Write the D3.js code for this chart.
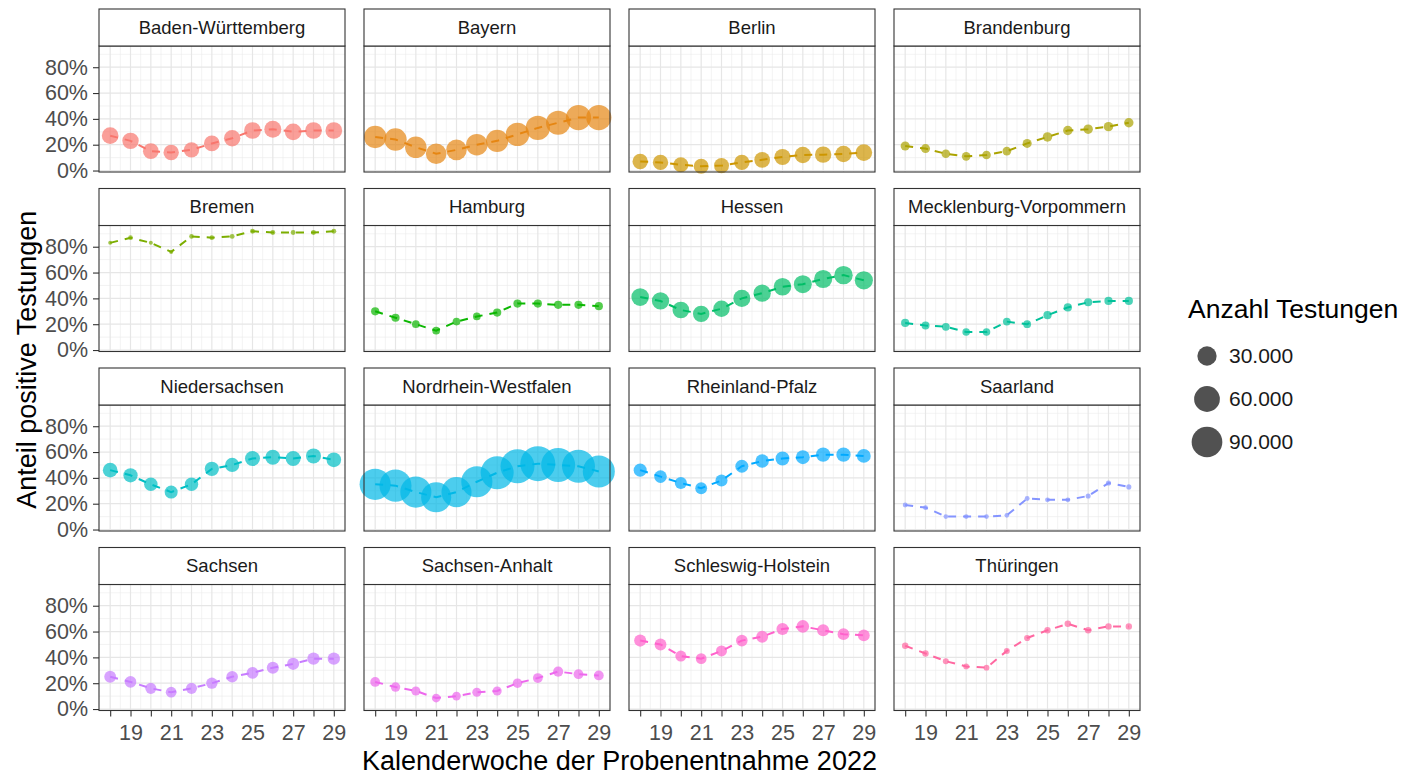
<!DOCTYPE html>
<html>
<head>
<meta charset="UTF-8">
<title>Anteil positive Testungen</title>
<style>
  body { margin: 0; background: #fff; }
  svg text { font-family: "Liberation Sans", Arial, sans-serif; }
</style>
</head>
<body>
<script src="https://cdn.jsdelivr.net/npm/d3@7"></script>
<script>
// Kalenderwochen 2022
const weeks = [18, 19, 20, 21, 22, 23, 24, 25, 26, 27, 28, 29]
const xTickLabels = ["", "19", "", "21", "", "23", "", "25", "", "27", "", "29"]
const yTicks = [0, 20, 40, 60, 80]

const states = [
  "Baden-Württemberg", "Bayern", "Berlin", "Brandenburg",
  "Bremen", "Hamburg", "Hessen", "Mecklenburg-Vorpommern",
  "Niedersachsen", "Nordrhein-Westfalen", "Rheinland-Pfalz", "Saarland",
  "Sachsen", "Sachsen-Anhalt", "Schleswig-Holstein", "Thüringen"
]

// ggplot Standardfarben (hue_pal, 16 Stufen)
const stateColors = [
  "#F8766D", "#E68613", "#CD9600", "#ABA300",
  "#7CAE00", "#0CB702", "#00BE67", "#00C19A",
  "#00BFC4", "#00B8E7", "#00A9FF", "#8494FF",
  "#C77CFF", "#ED68ED", "#FF61CC", "#FF68A1"
]

// Anteil positive Testungen in % (eine Zeile pro Bundesland, gleiche Reihenfolge wie states)
const anteil = [
  [27, 23, 15, 14, 16, 21, 25, 31, 32, 30, 31, 31],
  [26, 24, 18, 13, 16, 20, 23, 28, 33, 37, 41, 41],
  [7, 6.3, 4.5, 3.3, 3.8, 6.3, 8.3, 10.5, 12, 12.3, 12.8, 13.9],
  [19, 17, 13, 11, 12, 15, 21, 26, 31, 32, 34, 37],
  [83, 87, 83, 76, 88, 87, 88, 92, 91, 91, 91, 92],
  [30, 25, 20, 15, 22, 26, 29, 36, 36, 35, 35, 34],
  [41, 38, 31, 28, 32, 40, 44, 49, 51, 55, 58, 54],
  [21, 19, 18, 14, 14, 22, 20, 27, 33, 37, 38, 38],
  [46, 42, 35, 29, 35, 47, 50, 55, 56, 55, 57, 54],
  [35, 34, 29, 25, 29, 37, 44, 49, 51, 50, 49, 45],
  [46, 41, 36, 32, 38, 49, 53, 55, 56, 58, 58, 57],
  [19, 17, 10, 10, 10, 11, 24, 23, 23, 26, 36, 33],
  [25, 21, 16, 13, 16, 20, 25, 28, 32, 35, 39, 39],
  [21, 17, 14, 8.5, 10, 13, 14, 20, 24, 29, 27, 26],
  [53, 50, 41, 39, 45, 53, 56, 62, 64, 61, 58, 57],
  [49, 43, 37, 33, 32, 45, 55, 61, 66, 61, 64, 64]
]

// Anzahl Testungen pro Woche
const testungen = [
  [21000, 20000, 18000, 17000, 17000, 18000, 20000, 21000, 22000, 21000, 21000, 21000],
  [43000, 43000, 39000, 35000, 35000, 39000, 43000, 48000, 52000, 52000, 57000, 57000],
  [17000, 17000, 16000, 16000, 16000, 17000, 18000, 19000, 20000, 20000, 20000, 21000],
  [4000, 4000, 3500, 3500, 3500, 3500, 4000, 4500, 4500, 4500, 4500, 4500],
  [800, 850, 800, 800, 850, 850, 900, 900, 900, 900, 900, 900],
  [3000, 3000, 2500, 2500, 2500, 2500, 3000, 3000, 3000, 3000, 3000, 3000],
  [24000, 23000, 21000, 20000, 20000, 22000, 23000, 24000, 25000, 26000, 27000, 26000],
  [3000, 2800, 2600, 2400, 2400, 2600, 2600, 3000, 3000, 3000, 3000, 3000],
  [15000, 14000, 12000, 11000, 12000, 14000, 14000, 16000, 16000, 16000, 16000, 15000],
  [93000, 99000, 93000, 86000, 86000, 93000, 106000, 113000, 121000, 113000, 106000, 99000],
  [11000, 10000, 9000, 8500, 9000, 11000, 12000, 13000, 13000, 14000, 14000, 13000],
  [900, 900, 850, 850, 850, 850, 900, 900, 900, 950, 950, 950],
  [8500, 8000, 7000, 6500, 7000, 7500, 8000, 8500, 9000, 9000, 9500, 9500],
  [5000, 4500, 4000, 3500, 3500, 4000, 4000, 4500, 5000, 5500, 5000, 5000],
  [9000, 8500, 7000, 6500, 7000, 8000, 8500, 9000, 10000, 9000, 8500, 8500],
  [1500, 1500, 1300, 1200, 1200, 1300, 1400, 1500, 1600, 1500, 1500, 1500]
]

const legendValues = [30000, 60000, 90000]
const legendLabels = ["30.000", "60.000", "90.000"]

// Layout
var width = 1418
var height = 776
var panelLeft = 99      // linker Rand erste Spalte
var colStep = 265       // Abstand der Spalten
var panelW = 246
var rowTop = 9          // Oberkante erster Streifen
var rowStep = 179.5
var stripH = 37
var panelH = 126

var svg = d3.select("body").append("svg")
  .attr("width", width)
  .attr("height", height)

svg.append("rect").attr("width", width).attr("height", height).attr("fill", "white")

// Skalen (ggplot: 5% Erweiterung)
var xExp = (d3.max(weeks) - d3.min(weeks)) * 0.05
var x = d3.scaleLinear()
  .domain([d3.min(weeks) - xExp, d3.max(weeks) + xExp])
  .range([0, panelW])

var allVals = anteil.flat()
var yExt = d3.extent(allVals)
var yExp = (yExt[1] - yExt[0]) * 0.05
var y = d3.scaleLinear()
  .domain([yExt[0] - yExp, yExt[1] + yExp])
  .range([panelH, 0])

var allN = testungen.flat()
var nMin = d3.min(allN), nMax = d3.max(allN)
var sizeScale = d3.scaleSqrt().domain([0, nMax - nMin]).range([0, 15.5])
function radius(n) { return 2 + sizeScale(Math.max(0, n - nMin)) }

var color = d3.scaleOrdinal().domain(states).range(stateColors)

var line = d3.line()
  .x(d => x(d.week))
  .y(d => y(d.value))

var yMinor = [10, 30, 50, 70, 90].filter(v => v > y.domain()[0] && v < y.domain()[1])
var xMinor = weeks.slice(0, -1).map(w => w + 0.5)

states.forEach(function (state, i) {
  var col = i % 4
  var row = Math.floor(i / 4)
  var px = panelLeft + col * colStep
  var py = rowTop + row * rowStep + stripH

  var g = svg.append("g").attr("transform", "translate(" + px + "," + py + ")")

  // Gitter
  g.selectAll(".ymin").data(yMinor).enter().append("line")
    .attr("x1", 0).attr("x2", panelW)
    .attr("y1", d => y(d)).attr("y2", d => y(d))
    .attr("stroke", "#ebebeb").attr("stroke-width", 0.6)
  g.selectAll(".xmin").data(xMinor).enter().append("line")
    .attr("y1", 0).attr("y2", panelH)
    .attr("x1", d => x(d)).attr("x2", d => x(d))
    .attr("stroke", "#ebebeb").attr("stroke-width", 0.6)
  g.selectAll(".ymaj").data(yTicks).enter().append("line")
    .attr("x1", 0).attr("x2", panelW)
    .attr("y1", d => y(d)).attr("y2", d => y(d))
    .attr("stroke", "#e6e6e6").attr("stroke-width", 1.2)
  g.selectAll(".xmaj").data(weeks).enter().append("line")
    .attr("y1", 0).attr("y2", panelH)
    .attr("x1", d => x(d)).attr("x2", d => x(d))
    .attr("stroke", "#e6e6e6").attr("stroke-width", 1.2)

  var pts = weeks.map((w, j) => ({ week: w, value: anteil[i][j], n: testungen[i][j] }))

  g.append("path")
    .datum(pts)
    .attr("d", line)
    .attr("fill", "none")
    .attr("stroke", color(state))
    .attr("stroke-width", 2)
    .attr("stroke-dasharray", "8 7")

  g.selectAll("circle").data(pts).enter().append("circle")
    .attr("cx", d => x(d.week))
    .attr("cy", d => y(d.value))
    .attr("r", d => radius(d.n))
    .attr("fill", color(state))
    .attr("fill-opacity", 0.7)

  // Rahmen
  g.append("rect")
    .attr("width", panelW).attr("height", panelH)
    .attr("fill", "none").attr("stroke", "#333").attr("stroke-width", 1.1)

  // Streifen
  g.append("rect")
    .attr("y", -stripH).attr("width", panelW).attr("height", stripH)
    .attr("fill", "white").attr("stroke", "#333").attr("stroke-width", 1.1)
  g.append("text")
    .attr("x", panelW / 2).attr("y", -stripH / 2)
    .attr("dy", "0.35em")
    .attr("text-anchor", "middle")
    .attr("font-size", "18.5px")
    .attr("fill", "#1a1a1a")
    .text(state)

  // Achsen
  if (col === 0) {
    var ya = g.append("g").call(d3.axisLeft(y).tickValues(yTicks).tickFormat(d => d + "%").tickSize(6).tickPadding(5))
    ya.select(".domain").remove()
    ya.selectAll("line").attr("stroke", "#333").attr("stroke-width", 1.1)
    ya.selectAll("text").attr("font-size", "21.5px").attr("fill", "#4d4d4d")
      .style("font-family", "Liberation Sans, Arial, sans-serif")
  }
  if (row === 3) {
    var xa = g.append("g").attr("transform", "translate(0," + panelH + ")")
      .call(d3.axisBottom(x).tickValues(weeks).tickFormat((d, j) => xTickLabels[j]).tickSize(6).tickPadding(8))
    xa.select(".domain").remove()
    xa.selectAll("line").attr("stroke", "#333").attr("stroke-width", 1.1)
    xa.selectAll("text").attr("font-size", "21.5px").attr("fill", "#4d4d4d")
      .style("font-family", "Liberation Sans, Arial, sans-serif")
  }
})

// Achsentitel
var gridRight = panelLeft + 3 * colStep + panelW
var gridBottom = rowTop + 3 * rowStep + stripH + panelH
svg.append("text")
  .attr("x", (panelLeft + gridRight) / 2)
  .attr("y", 770)
  .attr("text-anchor", "middle")
  .attr("font-size", "27px")
  .attr("fill", "#000")
  .text("Kalenderwoche der Probenentnahme 2022")

svg.append("text")
  .attr("transform", "translate(36," + ((rowTop + gridBottom) / 2) + ") rotate(-90)")
  .attr("text-anchor", "middle")
  .attr("font-size", "27px")
  .attr("fill", "#000")
  .text("Anteil positive Testungen")

// Legende
var lg = svg.append("g").attr("transform", "translate(1188,0)")
lg.append("text")
  .attr("x", 0).attr("y", 318)
  .attr("font-size", "26.5px")
  .attr("fill", "#000")
  .text("Anzahl Testungen")

var items = lg.selectAll(".item").data(legendValues).enter().append("g")
  .attr("transform", (d, i) => "translate(0," + (356 + i * 43) + ")")
items.append("circle")
  .attr("cx", 19).attr("cy", 0)
  .attr("r", d => radius(d))
  .attr("fill", "#333").attr("fill-opacity", 0.85)
items.append("text")
  .attr("x", 41).attr("y", 0).attr("dy", "0.35em")
  .attr("font-size", "21px")
  .attr("fill", "#1a1a1a")
  .text((d, i) => legendLabels[i])
</script>
</body>
</html>
